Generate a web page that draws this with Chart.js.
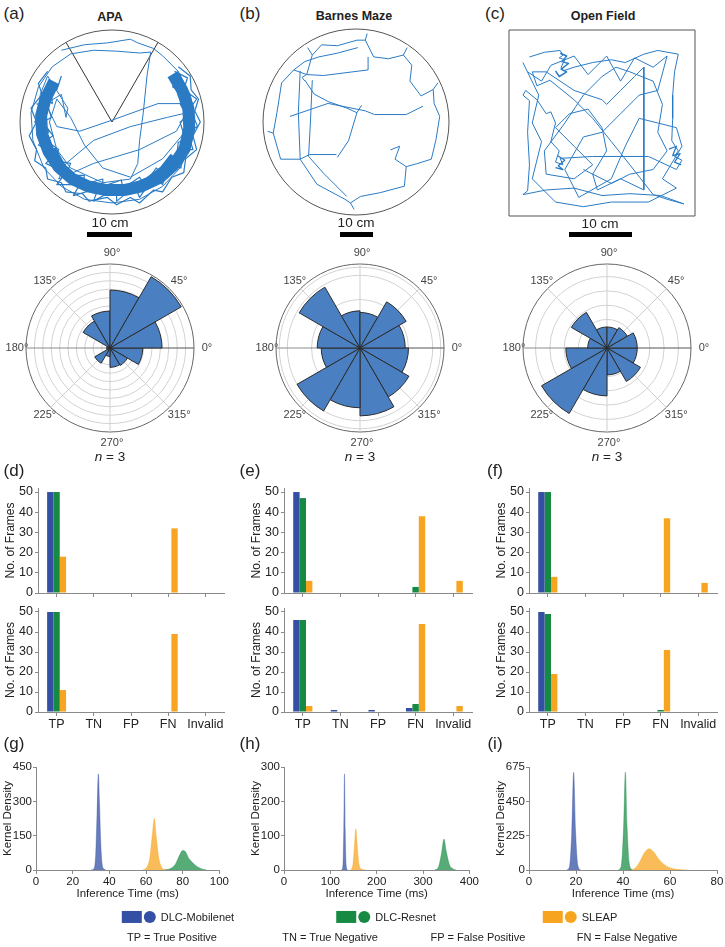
<!doctype html>
<html>
<head>
<meta charset="utf-8">
<title>Tracking comparison</title>
<script src="https://cdn.jsdelivr.net/npm/chart.js"></script>
<style>
  body { margin: 0; background: #fff; font-family: "Liberation Sans", Arial, sans-serif; color: #222; }
  #page { position: relative; width: 725px; height: 947px; overflow: hidden; background: #fff; }
  canvas { position: absolute; }
  .t { position: absolute; transform: translate(-50%, -50%); white-space: nowrap; line-height: 1; }
  .sb { position: absolute; background: #000; height: 5px; }
  .sw { display: inline-block; vertical-align: middle; }
</style>
</head>
<body>
<div id="page"></div>
<script>
// ---- data ----
const categories = ['TP', 'TN', 'FP', 'FN', 'Invalid'];
const methods = ['DLC-Mobilenet', 'DLC-Resnet', 'SLEAP'];

const apaTopMobilenet = [50, 0, 0, 0, 0];
const apaTopResnet = [50, 0, 0, 0, 0];
const apaTopSleap = [18, 0, 0, 32, 0];
const apaBotMobilenet = [50, 0, 0, 0, 0];
const apaBotResnet = [50, 0, 0, 0, 0];
const apaBotSleap = [11, 0, 0, 39, 0];

const barnesTopMobilenet = [50, 0, 0, 0, 0];
const barnesTopResnet = [47, 0, 0, 3, 0];
const barnesTopSleap = [6, 0, 0, 38, 6];
const barnesBotMobilenet = [46, 1, 1, 2, 0];
const barnesBotResnet = [46, 0, 0, 4, 0];
const barnesBotSleap = [3, 0, 0, 44, 3];

const ofTopMobilenet = [50, 0, 0, 0, 0];
const ofTopResnet = [50, 0, 0, 0, 0];
const ofTopSleap = [8, 0, 0, 37, 5];
const ofBotMobilenet = [50, 0, 0, 0, 0];
const ofBotResnet = [49, 0, 0, 1, 0];
const ofBotSleap = [19, 0, 0, 31, 0];

// heading histograms, 30 degree bins starting at 0-30 going counter-clockwise
const apaRose = [6.2, 9.8, 6.9, 4.4, 3.7, 0.4, 0.4, 2.1, 1.0, 2.3, 2.4, 3.9];
const barnesRose = [0.56, 0.66, 0.44, 0.46, 0.87, 0.53, 0.48, 0.9, 0.74, 0.84, 0.7, 0.6];
const ofRose = [0.36, 0.28, 0.25, 0.25, 0.49, 0.23, 0.49, 0.9, 0.57, 0.32, 0.46, 0.36];
const roseLabels = ['0°', '45°', '90°', '135°', '180°', '225°', '270°', '315°'];
const apaRings = [0, 1, 2, 3, 4, 5, 6, 7, 8, 9, 10];
const barnesRings = [0, 0.3, 0.6, 0.9, 1.0, 1.04];
const ofRings = [0, 0.17, 0.34, 0.51, 0.68, 0.85, 1.0];

// kernel density curves [ms, density]
const apaKdeMobilenet = [[30,0],[31.5,5],[32.5,60],[33.3,250],[34,420],[34.6,300],[35.3,120],[36,30],[37,5],[38,0]];
const apaKdeResnet = [[70,0],[73,5],[76,25],[78,60],[80,85],[81.5,80],[83,55],[85,35],[87,20],[90,6],[93,0]];
const apaKdeSleap = [[58,0],[60,8],[62,50],[63.5,160],[64.5,225],[65.5,150],[67,50],[68.5,12],[70,2],[72,0]];
const barnesKdeMobilenet = [[124,0],[127,10],[129,120],[130.5,280],[132,120],[134,15],[137,0]];
const barnesKdeResnet = [[325,0],[333,8],[340,50],[345,90],[350,55],[357,15],[365,3],[372,0]];
const barnesKdeSleap = [[143,0],[148,10],[152,70],[155,120],[158,70],[162,15],[168,2],[175,0]];
const ofKdeMobilenet = [[16,0],[17.2,20],[18.2,250],[19,640],[19.8,260],[20.8,30],[22,0]];
const ofKdeResnet = [[38,0],[39.3,30],[40.3,300],[41,640],[41.7,300],[42.7,40],[44,0]];
const ofKdeSleap = [[42,0],[45,10],[47,50],[49,110],[51,140],[53,120],[55,75],[58,30],[61,10],[65,2],[68,0]];

// trajectories, arena units (radius / half width = 1)
const apaCone = [[-0.5,0.866],[0,0],[0.5,0.866]];
const apaBand = [[-0.63,0.44],[-0.72,0.26],[-0.77,0.07],[-0.76,-0.13],[-0.69,-0.32],[-0.58,-0.49],[-0.43,-0.62],[-0.26,-0.7],[-0.06,-0.74],[0.13,-0.74],[0.32,-0.7],[0.51,-0.61],[0.67,-0.47],[0.79,-0.29],[0.84,-0.07],[0.83,0.15],[0.76,0.35],[0.66,0.52]];
const apaBandLow = [[-0.66,-0.3],[-0.55,-0.5],[-0.4,-0.64],[-0.2,-0.72],[0,-0.75],[0.2,-0.73],[0.4,-0.65],[0.56,-0.53],[0.68,-0.38]];
const apaInner = [[-0.55,0.5],[-0.6,0.35],[-0.66,0.4],[-0.65,0.2],[-0.72,0.25],[-0.66,0.05],[-0.75,0.0],[-0.64,-0.15],[-0.72,-0.2],[-0.58,-0.3],[-0.62,-0.42],[-0.45,-0.45],[-0.5,-0.58],[-0.3,-0.58],[-0.32,-0.68],[-0.1,-0.62],[-0.1,-0.7],[0.1,-0.63],[0.12,-0.72],[0.3,-0.6],[0.35,-0.68],[0.48,-0.5],[0.55,-0.56],[0.62,-0.38],[0.7,-0.42],[0.72,-0.22],[0.8,-0.2],[0.74,0.0],[0.82,0.05],[0.74,0.2],[0.8,0.3],[0.66,0.38],[0.7,0.5]];
const apaOuter = [[-0.7,0.55],[-0.8,0.42],[-0.76,0.3],[-0.88,0.15],[-0.82,0.0],[-0.9,-0.15],[-0.82,-0.3],[-0.84,-0.42],[-0.72,-0.5],[-0.7,-0.62],[-0.55,-0.66],[-0.5,-0.76],[-0.32,-0.78],[-0.25,-0.86],[-0.05,-0.82],[0.05,-0.9],[0.2,-0.82],[0.3,-0.88],[0.45,-0.74],[0.55,-0.76],[0.65,-0.6],[0.78,-0.55],[0.8,-0.4],[0.92,-0.3],[0.88,-0.15],[0.96,0.0],[0.9,0.12],[0.94,0.25],[0.86,0.35],[0.85,0.5],[0.72,0.6]];
const apaPath = [[-0.55,0.78],[-0.3,0.84],[-0.05,0.86],[0.2,0.9],[0.28,0.86],[0.45,0.8],[0.55,0.72],[0.72,0.55],[0.85,0.3],[0.9,0.05],[0.86,-0.25],[0.74,-0.5],[0.55,-0.7],[0.3,-0.84],[0,-0.88],[-0.3,-0.84],[-0.55,-0.7],[-0.74,-0.5],[-0.86,-0.2],[-0.88,0.1],[-0.8,0.38],[-0.65,0.6],[-0.45,0.74],[-0.2,0.78],[0.05,0.77],[0.3,0.75],[0.42,0.76],[0.38,0.5],[0.34,0.1],[0.3,-0.2],[0.28,-0.45],[0.2,-0.62],[-0.1,-0.66],[-0.45,-0.5],[-0.6,-0.3],[-0.68,0.0],[-0.6,0.25],[-0.45,0.05],[-0.3,-0.25],[-0.1,-0.5],[0.2,-0.6],[0.55,-0.4],[0.8,-0.1],[0.9,0.12],[0.6,0.05],[0.2,-0.05],[-0.2,-0.2],[-0.5,-0.45],[-0.58,-0.62],[-0.2,-0.45],[0.3,-0.3],[0.7,-0.1],[0.86,0.2],[0.5,0.2],[0.0,0.02],[-0.35,-0.1],[-0.6,-0.05],[-0.72,0.2],[-0.55,0.3],[-0.5,0.05],[-0.48,0.15],[-0.7,0.5],[-0.78,0.3],[-0.8,0.0],[-0.75,-0.3],[-0.6,-0.55],[-0.35,-0.72],[0.0,-0.8],[0.35,-0.73],[0.6,-0.55],[0.78,-0.3],[0.86,0.0],[0.82,0.3],[0.7,0.5]];
const apaScribble = [[-0.82,0.2],[-0.7,0.15],[-0.84,0.0],[-0.68,-0.1],[-0.8,-0.25],[-0.62,-0.35],[-0.72,-0.45],[-0.5,-0.55],[-0.6,-0.68],[-0.35,-0.68],[-0.42,-0.8],[-0.15,-0.72],[-0.2,-0.86],[0.05,-0.72],[0.05,-0.86],[0.25,-0.7],[0.3,-0.82],[0.45,-0.6],[0.55,-0.68],[0.62,-0.45],[0.75,-0.5],[0.75,-0.3],[0.88,-0.3],[0.82,-0.1],[0.93,-0.05],[0.85,0.15],[0.92,0.25],[0.78,0.35],[0.82,0.48],[0.68,0.55]];

const barnesRim = [[-0.53,0.51],[-0.47,0.72],[-0.37,0.83],[-0.2,0.82],[0.01,0.88],[0.1,0.88],[0.19,0.7],[0.35,0.68],[0.51,0.72],[0.6,0.61],[0.58,0.44],[0.7,0.28],[0.83,0.35],[0.84,0.2],[0.9,0.06],[0.86,-0.19],[0.81,-0.4],[0.65,-0.45],[0.54,-0.48],[0.52,-0.69],[0.26,-0.76],[0.05,-0.8],[-0.06,-0.87],[-0.12,-0.83],[-0.42,-0.67],[-0.6,-0.4],[-0.81,-0.4],[-0.89,-0.12],[-0.85,0.1],[-0.8,0.42],[-0.67,0.56],[-0.53,0.51],[-0.35,0.5],[0.13,0.56],[0.13,0.7]];
const barnesCross = [[-0.71,0.06],[-0.3,0.2],[0.1,0.12],[0.2,0.08],[0.54,0.08],[0.72,0.17]];
const barnesDiag = [[-0.55,0.45],[-0.45,0.3],[-0.3,0.22],[-0.1,0.15],[0.01,0.1],[-0.08,-0.2],[-0.2,-0.38]];
const barnesLeft = [[-0.6,0.55],[-0.62,0.1],[-0.6,-0.4],[-0.5,-0.35],[-0.21,-0.35]];
const barnesLeft2 = [[-0.47,0.45],[-0.49,0.0],[-0.51,-0.37],[-0.35,-0.55],[-0.1,-0.8]];
const barnesRight = [[0.47,-0.26],[0.42,-0.4],[0.54,-0.48]];
const barnesTop = [[-0.67,0.56],[-0.55,0.65],[-0.4,0.7],[-0.2,0.74],[0.02,0.8]];
const barnesSpurs = [
  [[0.51,0.72],[0.55,0.8]], [[0.83,0.35],[0.88,0.42]], [[0.47,-0.26],[0.37,-0.3]],
  [[-0.89,-0.12],[-0.95,-0.1]], [[-0.47,0.72],[-0.52,0.8]], [[0.01,0.1],[0.06,0.18]],
  [[0.1,0.88],[0.12,0.95]], [[-0.06,-0.87],[-0.02,-0.94]], [[-0.53,0.51],[-0.58,0.48],[-0.55,0.44]]
];

const ofPath = [[-0.78,0.71],[-0.62,0.76],[-0.45,0.78],[-0.42,0.73],[-0.46,0.7],[-0.4,0.68],[-0.44,0.6],[-0.42,0.56],[-0.3,0.6],[-0.1,0.65],[0.1,0.68],[0.25,0.65],[0.45,0.74],[0.6,0.78],[0.82,0.74],[0.78,0.55],[0.76,0.3],[0.76,0.05],[0.75,-0.19],[0.82,-0.3],[0.78,-0.36],[0.86,-0.4],[0.8,-0.5],[0.5,-0.36],[0.2,-0.36],[-0.1,-0.36],[-0.45,-0.38],[-0.42,-0.45],[-0.5,-0.42],[-0.46,-0.3],[-0.55,-0.2],[-0.5,0.0],[-0.55,0.12],[-0.6,0.1],[-0.7,0.25],[-0.82,0.35],[-0.85,0.3],[-0.78,0.24],[-0.8,-0.1],[-0.78,-0.45],[-0.8,-0.73],[-0.85,-0.77],[-0.6,-0.72],[-0.3,-0.7],[0.0,-0.78],[0.3,-0.76],[0.63,-0.78],[0.88,-0.87],[0.7,-0.82],[0.55,-0.77],[0.3,-0.45],[0.1,-0.2],[-0.1,0.05],[-0.3,0.25],[-0.56,0.46],[-0.7,0.4],[-0.75,0.55],[-0.6,0.55],[-0.3,0.35],[0.0,0.25],[0.05,0.2],[0.2,0.35],[0.35,0.5],[0.45,0.6],[0.45,0.2],[0.45,-0.1],[0.45,-0.4],[0.45,-0.72],[0.2,-0.6],[-0.05,-0.72],[-0.1,-0.55],[0.05,-0.3],[0.0,-0.05],[-0.15,0.15],[-0.35,0.1],[-0.5,-0.05],[-0.3,-0.25],[-0.1,-0.45],[-0.3,-0.6],[-0.6,-0.55],[-0.62,-0.3],[-0.4,0.0],[-0.2,0.3],[0.0,0.5],[0.15,0.6],[0.3,0.55],[0.55,0.45],[0.65,0.2],[0.6,-0.1],[0.7,-0.3],[0.55,-0.5],[0.3,-0.55],[0.1,-0.65],[-0.2,-0.5]];
const ofPath2 = [[-0.8,0.55],[-0.65,0.45],[-0.55,0.62],[-0.3,0.72],[-0.15,0.52],[0.05,0.72],[0.2,0.45],[0.35,0.7],[0.55,0.6],[0.7,0.72],[0.6,0.35],[0.4,0.3],[0.2,0.1],[0.0,-0.1],[-0.2,-0.15],[-0.4,-0.5],[-0.25,-0.8],[0.1,-0.6],[0.25,-0.25],[0.4,0.05],[0.6,0.0],[0.8,-0.05],[0.86,-0.25],[0.65,-0.6],[0.8,-0.7],[0.5,-0.85],[0.1,-0.85],[-0.2,-0.9],[-0.5,-0.85],[-0.75,-0.6],[-0.65,-0.2],[-0.75,0.0],[-0.68,0.3],[-0.85,0.65]];
const ofCluster = [[-0.45,0.75],[-0.38,0.72],[-0.43,0.66],[-0.36,0.64],[-0.44,0.58],[-0.38,0.55],[-0.46,0.5],[-0.5,0.56]];
const ofCluster2 = [[0.72,-0.28],[0.8,-0.25],[0.76,-0.35],[0.84,-0.33],[0.78,-0.42],[0.85,-0.45]];
const ofCluster3 = [[-0.48,-0.35],[-0.4,-0.4],[-0.47,-0.46],[-0.42,-0.5],[-0.5,-0.48]];

// ---- styling ----
const BLUE = '#3450a4', GREEN = '#168a43', ORANGE = '#f7a520';
const TRACK = '#2a7bc4';
const AXIS = '#8a8a8a';

Chart.defaults.font.family = '"Liberation Sans", Arial, sans-serif';
Chart.defaults.color = '#222';
Chart.defaults.animation = false;
Chart.defaults.responsive = false;
Chart.defaults.plugins.legend.display = false;
Chart.defaults.plugins.tooltip.enabled = false;

const page = document.getElementById('page');

function addCanvas(left, top, w, h) {
  const c = document.createElement('canvas');
  c.width = w; c.height = h;
  c.style.left = left + 'px';
  c.style.top = top + 'px';
  page.appendChild(c);
  return c;
}

function addText(html, x, y, size, extra) {
  const d = document.createElement('div');
  d.className = 't';
  d.innerHTML = html;
  d.style.left = x + 'px';
  d.style.top = y + 'px';
  d.style.fontSize = size + 'px';
  if (extra) Object.assign(d.style, extra);
  page.appendChild(d);
}

function scaleBar(x0, x1, y) {
  const d = document.createElement('div');
  d.className = 'sb';
  d.style.left = x0 + 'px';
  d.style.width = (x1 - x0) + 'px';
  d.style.top = y + 'px';
  page.appendChild(d);
}

// ---- trajectories ----
const arenaOutline = {
  id: 'arenaOutline',
  afterDatasetsDraw(chart, args, opts) {
    const {ctx, scales: {x, y}} = chart;
    const cx = x.getPixelForValue(0), cy = y.getPixelForValue(0);
    const rx = x.getPixelForValue(1) - cx, ry = cy - y.getPixelForValue(1);
    ctx.save();
    ctx.strokeStyle = '#555';
    ctx.lineWidth = 1;
    ctx.beginPath();
    if (opts.shape === 'square') ctx.rect(cx - rx, cy - ry, 2 * rx, 2 * ry);
    else ctx.arc(cx, cy, rx, 0, 2 * Math.PI);
    ctx.stroke();
    ctx.restore();
  }
};

function trackChart(left, top, size, paths, shape) {
  new Chart(addCanvas(left, top, size, size), {
    type: 'scatter',
    data: {
      datasets: paths.map(p => ({
        data: p.pts.map(([x, y]) => ({x, y})),
        showLine: true,
        pointRadius: 0,
        borderColor: p.color || TRACK,
        borderWidth: p.width || 1,
        borderJoinStyle: 'round',
        clip: false
      }))
    },
    options: {
      layout: {padding: 4},
      scales: {
        x: {type: 'linear', min: -1, max: 1, display: false},
        y: {type: 'linear', min: -1, max: 1, display: false}
      },
      plugins: {arenaOutline: {shape}}
    },
    plugins: [arenaOutline]
  });
}

trackChart(16, 26, 192, [
  {pts: apaBand, width: 12},
  {pts: apaBandLow, width: 10},
  {pts: apaInner, width: 1.2},
  {pts: apaOuter, width: 1.2},
  {pts: apaScribble, width: 1.2},
  {pts: apaPath, width: 1},
  {pts: apaCone, color: '#333', width: 1}
], 'circle');

trackChart(259, 25, 194, [
  {pts: barnesRim}, {pts: barnesCross}, {pts: barnesDiag}, {pts: barnesLeft},
  {pts: barnesLeft2}, {pts: barnesRight}, {pts: barnesTop}
].concat(barnesSpurs.map(pts => ({pts}))), 'circle');

trackChart(505, 26, 194, [
  {pts: ofPath}, {pts: ofPath2}, {pts: ofCluster, width: 1.5},
  {pts: ofCluster2, width: 1.3}, {pts: ofCluster3, width: 1.3}
], 'square');

// ---- rose plots ----
const polarDeco = {
  id: 'polarDeco',
  beforeDatasetsDraw(chart) {
    const s = chart.scales.r, ctx = chart.ctx, R = s.drawingArea;
    ctx.save();
    ctx.lineWidth = 1;
    for (let d = 0; d < 360; d += 45) {
      const a = d * Math.PI / 180;
      ctx.strokeStyle = d === 0 ? '#555' : (d === 180 ? '#8c8c8c' : '#cfcfcf');
      ctx.beginPath();
      ctx.moveTo(s.xCenter, s.yCenter);
      ctx.lineTo(s.xCenter + R * Math.cos(a), s.yCenter - R * Math.sin(a));
      ctx.stroke();
    }
    ctx.restore();
  },
  afterDraw(chart) {
    const s = chart.scales.r, ctx = chart.ctx, R = s.drawingArea + 11;
    ctx.save();
    ctx.font = '11px "Liberation Sans", Arial, sans-serif';
    ctx.fillStyle = '#444';
    ctx.textAlign = 'center';
    ctx.textBaseline = 'middle';
    roseLabels.forEach((lab, i) => {
      const a = i * 45 * Math.PI / 180;
      ctx.fillText(lab, s.xCenter + R * Math.cos(a) + 2, s.yCenter - R * Math.sin(a));
    });
    ctx.restore();
  }
};

function roseChart(left, top, bins, rings) {
  // polarArea draws clockwise from the start angle, so feed the bins in reverse
  const data = bins.slice().reverse();
  const max = rings[rings.length - 1];
  new Chart(addCanvas(left, top, 220, 220), {
    type: 'polarArea',
    data: {
      labels: data.map((v, i) => i),
      datasets: [{
        data,
        backgroundColor: '#4a80c2',
        borderColor: '#2b2b2b',
        borderWidth: 1
      }]
    },
    options: {
      layout: {padding: 26},
      scales: {
        r: {
          min: 0, max, startAngle: 90,
          ticks: {display: false},
          afterBuildTicks(s) { s.ticks = rings.map(value => ({value})); },
          grid: {circular: true, color: c => (c.tick && c.tick.value >= max - 1e-9) ? '#666' : '#d2d2d2'},
          angleLines: {display: false},
          pointLabels: {display: false}
        }
      }
    },
    plugins: [polarDeco]
  });
}

roseChart(0, 238, apaRose, apaRings);
roseChart(250, 238, barnesRose, barnesRings);
roseChart(497, 238, ofRose, ofRings);

// ---- bar charts ----
function barChart(left, top, w, h, vals, showLabels) {
  new Chart(addCanvas(left, top, w, h), {
    type: 'bar',
    data: {
      labels: categories,
      datasets: [
        {label: methods[0], data: vals[0], backgroundColor: BLUE},
        {label: methods[1], data: vals[1], backgroundColor: GREEN},
        {label: methods[2], data: vals[2], backgroundColor: ORANGE}
      ]
    },
    options: {
      layout: {padding: {top: 10, right: 6, bottom: showLabels ? 0 : 6}},
      datasets: {bar: {barPercentage: 1, categoryPercentage: 0.51}},
      scales: {
        x: {
          offset: true,
          grid: {drawOnChartArea: false, offset: false, tickLength: 4, color: AXIS},
          border: {color: AXIS},
          ticks: {display: showLabels, font: {size: 12.5}, padding: 1, color: '#222', maxRotation: 0, minRotation: 0, autoSkip: false},
          afterFit(s) { s.height = showLabels ? 18 : 5; }
        },
        y: {
          min: 0, max: 52,
          ticks: {stepSize: 10, includeBounds: false, font: {size: 12.5}, padding: 2, color: '#222'},
          grid: {drawOnChartArea: false, tickLength: 3, color: AXIS},
          border: {color: AXIS},
          title: {display: true, text: 'No. of Frames', font: {size: 12}, padding: {top: 3, bottom: 0}, color: '#222'},
          afterFit(s) { s.width = 38; }
        }
      }
    }
  });
}

barChart(0, 478, 230, 126, [apaTopMobilenet, apaTopResnet, apaTopSleap], false);
barChart(0, 598, 230, 132, [apaBotMobilenet, apaBotResnet, apaBotSleap], true);
barChart(246, 478, 232, 126, [barnesTopMobilenet, barnesTopResnet, barnesTopSleap], false);
barChart(246, 598, 232, 132, [barnesBotMobilenet, barnesBotResnet, barnesBotSleap], true);
barChart(491, 478, 232, 126, [ofTopMobilenet, ofTopResnet, ofTopSleap], false);
barChart(491, 598, 232, 132, [ofBotMobilenet, ofBotResnet, ofBotSleap], true);

// ---- kernel density ----
function kdeChart(left, w, curves, xMax, xStep, yMax, yStep) {
  const fills = ['rgba(52,80,164,0.75)', 'rgba(22,138,67,0.72)', 'rgba(247,165,32,0.75)'];
  new Chart(addCanvas(left, 757, w, 147), {
    type: 'line',
    data: {
      datasets: curves.map((c, i) => ({
        label: methods[i],
        data: c.map(([x, y]) => ({x, y})),
        fill: 'origin',
        backgroundColor: fills[i],
        borderColor: fills[i],
        borderWidth: 0.5,
        pointRadius: 0,
        cubicInterpolationMode: 'monotone'
      }))
    },
    options: {
      layout: {padding: {top: 10, right: 8}},
      scales: {
        x: {
          type: 'linear', min: 0, max: xMax,
          ticks: {stepSize: xStep, font: {size: 11.5}, padding: 1, color: '#222'},
          grid: {drawOnChartArea: false, tickLength: 4, color: AXIS},
          border: {color: AXIS},
          title: {display: true, text: 'Inference Time (ms)', font: {size: 11.5}, padding: {top: 0, bottom: 3}, color: '#222'},
          afterFit(s) { s.height = 34; }
        },
        y: {
          min: 0, max: yMax,
          ticks: {stepSize: yStep, font: {size: 11.5}, padding: 1, color: '#222'},
          grid: {drawOnChartArea: false, tickLength: 3, color: AXIS},
          border: {color: AXIS},
          title: {display: true, text: 'Kernel Density', font: {size: 11.5}, padding: {top: 1, bottom: 0}, color: '#222'},
          afterFit(s) { s.width = 36; }
        }
      }
    }
  });
}

kdeChart(0, 230, [apaKdeMobilenet, apaKdeResnet, apaKdeSleap], 100, 20, 450, 150);
kdeChart(248, 232, [barnesKdeMobilenet, barnesKdeResnet, barnesKdeSleap], 400, 100, 300, 100);
kdeChart(493, 232, [ofKdeMobilenet, ofKdeResnet, ofKdeSleap], 80, 20, 675, 225);

// ---- text ----
addText('(a)', 14, 13, 17);
addText('(b)', 250, 13, 17);
addText('(c)', 495, 13, 17);
addText('APA', 110, 17, 12.5, {fontWeight: 'bold'});
addText('Barnes Maze', 354, 16, 12.5, {fontWeight: 'bold'});
addText('Open Field', 603, 16, 12.5, {fontWeight: 'bold'});
addText('10 cm', 110, 223, 13.5);
addText('10 cm', 356, 223, 13.5);
addText('10 cm', 600, 224, 13.5);
scaleBar(87, 132, 232);
scaleBar(340, 373, 232);
scaleBar(569, 632, 232);
addText('<i>n</i> = 3', 110, 457, 13.5);
addText('<i>n</i> = 3', 360, 457, 13.5);
addText('<i>n</i> = 3', 607, 457, 13.5);
addText('(d)', 14, 470, 17);
addText('(e)', 250, 470, 17);
addText('(f)', 495, 470, 17);
addText('(g)', 14, 743, 17);
addText('(h)', 250, 743, 17);
addText('(i)', 495, 743, 17);

function legendItem(x, color, name) {
  addText('<span class="sw" style="width:20px;height:12px;background:' + color + '"></span>' +
          '<span class="sw" style="width:12px;height:12px;border-radius:6px;background:' + color + ';margin-left:2px"></span>' +
          '<span class="sw" style="margin-left:5px">' + name + '</span>', x, 917, 11);
}
legendItem(178, BLUE, 'DLC-Mobilenet');
legendItem(386, GREEN, 'DLC-Resnet');
legendItem(580, ORANGE, 'SLEAP');
addText('TP = True Positive', 172, 937, 11);
addText('TN = True Negative', 330, 937, 11);
addText('FP = False Positive', 478, 937, 11);
addText('FN = False Negative', 627, 937, 11);
</script>
</body>
</html>
